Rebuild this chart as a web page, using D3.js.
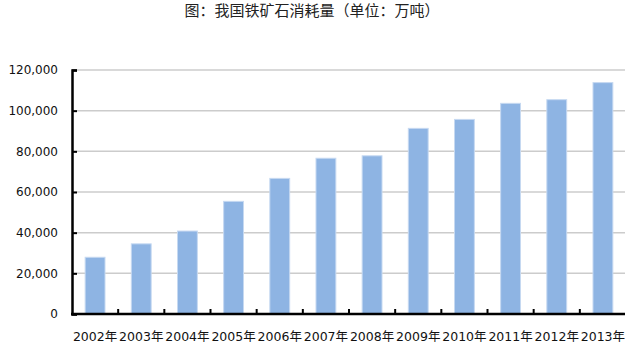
<!DOCTYPE html>
<html><head><meta charset="utf-8">
<script src="https://cdn.jsdelivr.net/npm/d3@7"></script>
<style>body{margin:0;background:#fff;}svg{display:block;}</style>
</head><body>
<script>
const title = "图：我国铁矿石消耗量（单位：万吨）";
const categories = ["2002年","2003年","2004年","2005年","2006年","2007年","2008年","2009年","2010年","2011年","2012年","2013年"];
const values = [27900, 34500, 40800, 55400, 66700, 76600, 77800, 91300, 95700, 103600, 105400, 113800];
const yTicks = [0, 20000, 40000, 60000, 80000, 100000, 120000];

const W = 625, H = 356;
const m = {left: 72, right: -1, top: 70, bottom: 42};
const svg = d3.select("body").append("svg").attr("width", W).attr("height", H);

const x = d3.scaleBand().domain(categories).range([m.left, W - m.right]).paddingInner(0.57).paddingOuter(0.285);
const y = d3.scaleLinear().domain([0, 120000]).range([H - m.bottom, m.top]);

svg.append("text").attr("x", 312).attr("y", 16).attr("text-anchor", "middle")
  .attr("font-family", "'Noto Sans CJK SC', sans-serif").attr("font-size", 15).attr("fill", "#222")
  .text(title);

// gridlines
svg.append("g").selectAll("line").data(yTicks.filter(d => d > 0)).join("line")
  .attr("x1", m.left).attr("x2", W).attr("y1", d => y(d)).attr("y2", d => y(d))
  .attr("stroke", "#cccccc").attr("stroke-width", 1.5);

// bars
svg.append("g").selectAll("rect").data(values).join("rect")
  .attr("x", (d, i) => x(categories[i]))
  .attr("y", d => y(d))
  .attr("width", x.bandwidth())
  .attr("height", d => y(0) - y(d))
  .attr("fill", "#8eb4e3").attr("stroke", "#c6d9f1").attr("stroke-width", 1);

// y axis
const yAxis = d3.axisLeft(y).tickValues(yTicks).tickSize(-5).tickPadding(14)
  .tickFormat(d3.format(","));
const gy = svg.append("g").attr("transform", `translate(${m.left},0)`).call(yAxis);
gy.select(".domain").attr("stroke", "#000").attr("stroke-width", 2.5);
gy.selectAll(".tick line").attr("stroke", "#000").attr("stroke-width", 2);
gy.selectAll("text").attr("font-family", "'DejaVu Sans', sans-serif").attr("font-size", 12).attr("fill", "#111");

// x axis
const bounds = d3.range(categories.length + 1).map(i => m.left + i * x.step());
const gx = svg.append("g");
gx.append("line").attr("x1", m.left - 1).attr("x2", W).attr("y1", y(0)).attr("y2", y(0))
  .attr("stroke", "#000").attr("stroke-width", 2.5);
gx.selectAll("line.t").data(bounds.slice(1)).join("line").attr("class", "t")
  .attr("x1", d => d).attr("x2", d => d).attr("y1", y(0)).attr("y2", y(0) - 5)
  .attr("stroke", "#000").attr("stroke-width", 2);
gx.selectAll("text").data(categories).join("text")
  .attr("x", d => x(d) + x.bandwidth() / 2).attr("y", y(0) + 27)
  .attr("text-anchor", "middle")
  .attr("font-family", "'DejaVu Sans', 'Noto Sans CJK SC', sans-serif").attr("font-size", 12.5).attr("fill", "#111")
  .text(d => d);
</script>
</body></html>
